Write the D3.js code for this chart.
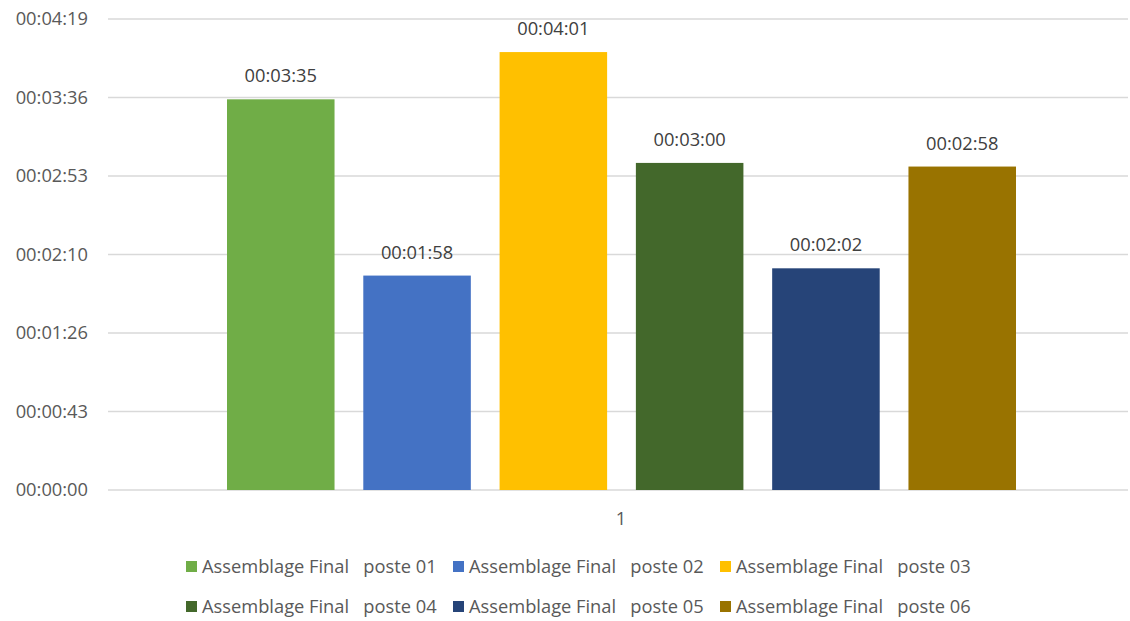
<!DOCTYPE html>
<html><head><meta charset="utf-8">
<script src="https://cdn.jsdelivr.net/npm/d3@7"></script>
<style>body{margin:0;background:#fff;}svg{display:block;font-family:"Open Sans",sans-serif;}</style>
</head><body><svg id="c" width="1130" height="621"></svg>
<script>
const seriesNames = ["Assemblage Final   poste 01","Assemblage Final   poste 02","Assemblage Final   poste 03","Assemblage Final   poste 04","Assemblage Final   poste 05","Assemblage Final   poste 06"];
const seriesSeconds = [215, 118, 241, 180, 122, 178];
const seriesLabels = ["00:03:35","00:01:58","00:04:01","00:03:00","00:02:02","00:02:58"];
const seriesColors = ["#70AD47","#4472C4","#FFC000","#43682B","#264478","#997300"];
const tickSeconds = [0, 43.2, 86.4, 129.6, 172.8, 216, 259.2];
const tickLabels = ["00:00:00","00:00:43","00:01:26","00:02:10","00:02:53","00:03:36","00:04:19"];
const categories = ["1"];

const FS = 18.3;
const svg = d3.select("#c");
const y = d3.scaleLinear().domain([0, 259.2]).range([490, 19]);
const x0 = d3.scaleBand().domain(categories).range([108, 1134]);
const x1 = d3.scaleBand().domain(seriesNames).range([x0("1")+119, x0("1")+x0.bandwidth()-118]).paddingInner(0.211);

// gridlines
svg.append("g").selectAll("line").data(tickSeconds).join("line")
  .attr("x1",108).attr("x2",1128).attr("y1",d=>y(d)).attr("y2",d=>y(d))
  .attr("stroke","#d9d9d9").attr("stroke-width",1.3);
// y labels
const yAxis = d3.axisLeft(y).tickValues(tickSeconds).tickFormat((d,i)=>tickLabels[i]).tickSize(0).tickPadding(0);
const ya = svg.append("g").attr("transform","translate(88,0)").call(yAxis);
ya.select(".domain").remove();
ya.selectAll("text").attr("fill","#595959").attr("font-size",FS).attr("font-family","Open Sans, sans-serif");

// bars
const data = seriesNames.map((n,i)=>({n, v:seriesSeconds[i], l:seriesLabels[i], c:seriesColors[i]}));
svg.append("g").selectAll("rect").data(data).join("rect")
  .attr("x",d=>x1(d.n)).attr("width",x1.bandwidth())
  .attr("y",d=>y(d.v)).attr("height",d=>y(0)-y(d.v)).attr("fill",d=>d.c);
svg.append("g").selectAll("text").data(data).join("text")
  .attr("x",d=>x1(d.n)+x1.bandwidth()/2).attr("y",d=>y(d.v)-17)
  .attr("text-anchor","middle").attr("fill","#404040").attr("font-size",FS).text(d=>d.l);

// x axis label
const xAxis = d3.axisBottom(x0).tickSize(0).tickPadding(0);
const xa = svg.append("g").attr("transform","translate(0,512)").call(xAxis);
xa.select(".domain").remove();
xa.selectAll("text").attr("fill","#595959").attr("font-size",FS).attr("font-family","Open Sans, sans-serif");

// legend
const legX = [186, 453, 720];
const legY = [567, 607];
const lg = svg.append("g").selectAll("g").data(data).join("g")
  .attr("transform",(d,i)=>`translate(${legX[i%3]},${legY[Math.floor(i/3)]})`);
lg.append("rect").attr("x",0).attr("y",-6).attr("width",11).attr("height",11).attr("fill",d=>d.c);
lg.append("text").attr("x",16).attr("y",0).attr("dy","0.35em").attr("fill","#595959")
  .attr("font-size",FS).style("white-space","pre").attr("xml:space","preserve").text(d=>d.n);
</script></body></html>
